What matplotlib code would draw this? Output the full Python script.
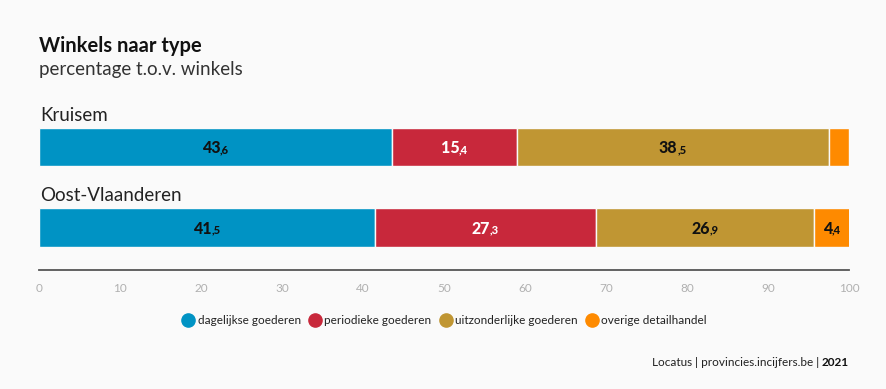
import matplotlib
matplotlib.use("Agg")
import matplotlib.pyplot as plt
from matplotlib.lines import Line2D
import numpy as np

categories = ["Kruisem", "Oost-Vlaanderen"]
series = ["dagelijkse goederen", "periodieke goederen", "uitzonderlijke goederen", "overige detailhandel"]
values = {
    "dagelijkse goederen": [43.6, 41.5],
    "periodieke goederen": [15.4, 27.3],
    "uitzonderlijke goederen": [38.5, 26.9],
    "overige detailhandel": [2.5, 4.4],
}
show_label = {
    "dagelijkse goederen": [True, True],
    "periodieke goederen": [True, True],
    "uitzonderlijke goederen": [True, True],
    "overige detailhandel": [False, True],
}
colors = ["#0093c4", "#c8283b", "#c09633", "#fe8a00"]
label_colors = ["#111111", "#ffffff", "#111111", "#111111"]
xticks = [0, 10, 20, 30, 40, 50, 60, 70, 80, 90, 100]

BG = "#fafafa"
plt.rcParams['font.family'] = ['Lato', 'DejaVu Sans']

W, H = 886, 389
fig = plt.figure(figsize=(W / 100, H / 100), dpi=100, facecolor=BG)

def fx(px):
    return px / W

def fy(py):
    return 1 - py / H

ax = fig.add_axes([fx(39), fy(270), fx(849) - fx(39), fy(100) - fy(270)])
ax.set_facecolor(BG)
ax.set_xlim(0, 100)
ax.set_ylim(1.528, -0.584)

y = np.arange(len(categories))
left = np.zeros(len(categories))
bars_info = []
for i, s in enumerate(series):
    v = np.array(values[s])
    ax.barh(y, v, left=left, height=0.48, color=colors[i], edgecolor=BG, linewidth=1.0)
    for j in range(len(categories)):
        if show_label[s][j]:
            bars_info.append((left[j] + v[j] / 2, y[j], v[j], label_colors[i]))
    left = left + v

for j, c in enumerate(categories):
    ax.annotate(c, xy=(0, y[j] - 0.24), xycoords='data', xytext=(1, 5), textcoords='offset points',
                ha='left', va='baseline', fontsize=13.5, color='#222222')

for sp in ['top', 'right', 'left']:
    ax.spines[sp].set_visible(False)
ax.spines['bottom'].set_color('#555555')
ax.spines['bottom'].set_linewidth(1.3)
ax.set_yticks([])
ax.set_xticks(xticks)
ax.set_xticklabels([str(t) for t in xticks])
ax.tick_params(axis='x', length=0, pad=9, labelsize=8.5, labelcolor='#b0b0b0')

fig.canvas.draw()
renderer = fig.canvas.get_renderer()

# value labels with small decimals
inv = ax.transData.inverted()
for xc, yc, v, col in bars_info:
    s = f"{v:.1f}"
    ip, dp = s.split(".")
    t1 = ax.text(0, 0, ip, fontsize=11.5, fontweight='black', color=col, ha='left', va='baseline')
    t2 = ax.text(0, 0, "," + dp, fontsize=8, fontweight='black', color=col, ha='left', va='baseline')
    w1 = t1.get_window_extent(renderer).width
    w2 = t2.get_window_extent(renderer).width
    tot = w1 + w2
    disp = ax.transData.transform((xc, yc))
    x0 = disp[0] - tot / 2
    base = disp[1] - 6
    p1 = inv.transform((x0, base))
    p2 = inv.transform((x0 + w1 - 0.5, base))
    t1.set_position((p1[0], p1[1]))
    t2.set_position((p2[0], p2[1]))

fig.text(fx(39), fy(52), "Winkels naar type", fontsize=14.5, fontweight='bold', color='#111111',
         ha='left', va='baseline')
fig.text(fx(39), fy(75), "percentage t.o.v. winkels", fontsize=13.5, fontweight='normal', color='#333333',
         ha='left', va='baseline')

handles = [Line2D([0], [0], marker='o', linestyle='none', markersize=9.5, markerfacecolor=colors[i],
                  markeredgecolor=colors[i]) for i in range(len(series))]
fig.legend(handles, series, loc='center', bbox_to_anchor=(fx(444), fy(321)), ncol=4, frameon=False,
           fontsize=8.5, handletextpad=0.2, columnspacing=0.6, labelcolor='#222222', handlelength=1.2)

tb = fig.text(fx(849), fy(366), "2021", fontsize=8.5, fontweight='bold', color='#111111', ha='right', va='baseline')
fig.canvas.draw()
wb = tb.get_window_extent(renderer).width
fig.text(fx(849 - wb - 3), fy(366), "Locatus | provincies.incijfers.be |", fontsize=8.5, color='#222222',
         ha='right', va='baseline')

fig.savefig("out.png", dpi=100, facecolor=BG)
